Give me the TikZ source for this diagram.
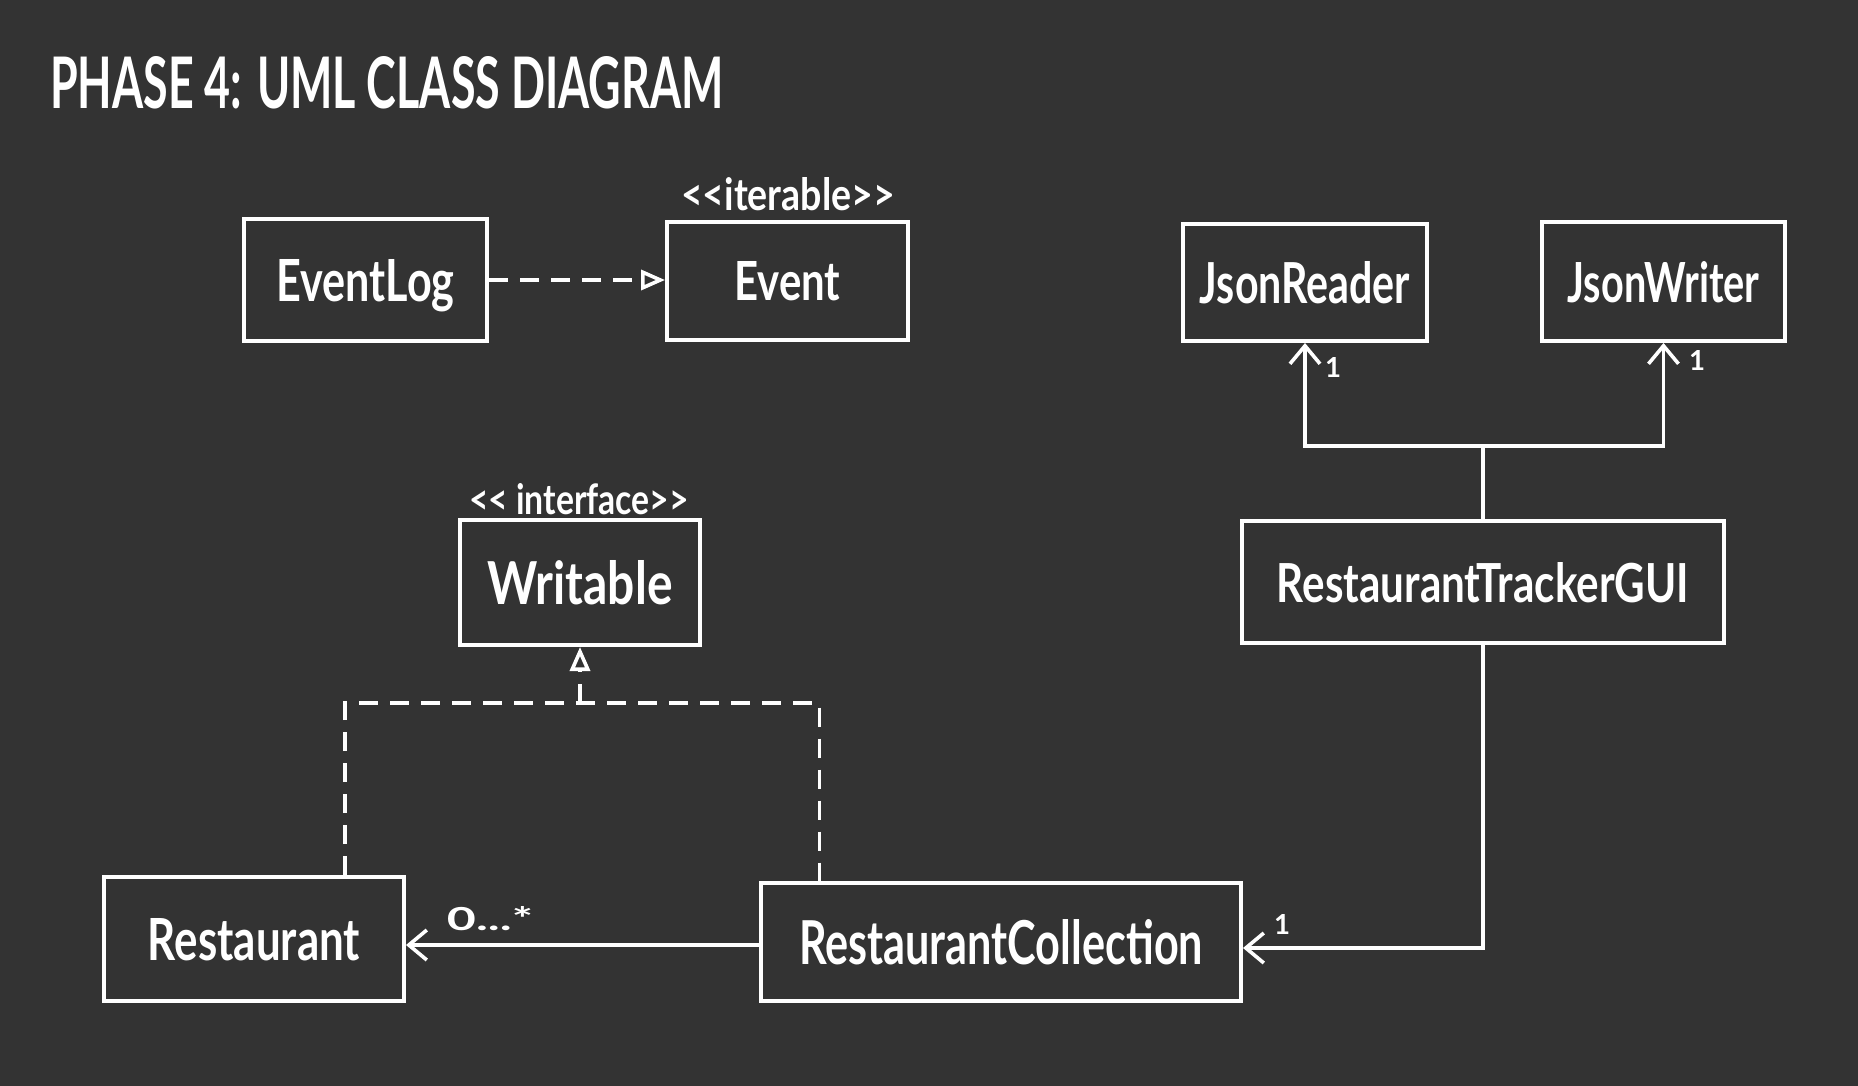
\documentclass[tikz,border=0pt]{standalone}
\usepackage{fontspec}
\setmainfont{Lato}
\usetikzlibrary{arrows.meta,calc}
\definecolor{bg}{HTML}{333333}
\newcommand{\hw}[3]{\resizebox{#1}{#2}{#3}}
\begin{document}
\begin{tikzpicture}[x=1pt,y=-1pt,
  cls/.style={draw=white,line width=4pt,inner sep=0pt,text=white,text depth=0pt,font=\bfseries},
  lbl/.style={text=white,inner sep=0pt,font=\bfseries},
  conn/.style={draw=white,line width=3.6pt},
  dashline/.style={conn,dash pattern=on 19pt off 12pt},
  barb/.style={-{Straight Barb[length=18pt,width=30pt]}},
  tri/.style={-{Triangle[open,length=24pt,width=20pt]}}
]
\fill[bg] (0,0) rectangle (1858,1086);
\useasboundingbox (0,0) rectangle (1858,1086);

% title
\node[lbl, anchor=base west] (title) at (50,109) {\hw{673pt}{52pt}{PHASE 4: UML CLASS DIAGRAM}};

% classes
\node[cls, minimum width=243pt, minimum height=122pt] (el) at (365.5,280) {\hw{178pt}{42pt}{EventLog}};
\node[cls, minimum width=241pt, minimum height=118pt] (ev) at (787.5,281) {\hw{106pt}{39pt}{Event}};
\node[cls, minimum width=244pt, minimum height=117pt] (jr) at (1305,282.5) {\hw{210pt}{42pt}{JsonReader}};
\node[cls, minimum width=243pt, minimum height=119pt] (jw) at (1663.5,281.5) {\hw{192pt}{41pt}{JsonWriter}};
\node[cls, minimum width=482pt, minimum height=122pt] (gui) at (1483,582) {\hw{412pt}{40pt}{RestaurantTrackerGUI}};
\node[cls, minimum width=240pt, minimum height=125pt] (wr) at (580,582.5) {\hw{185pt}{44pt}{Writable}};
\node[cls, minimum width=300pt, minimum height=124pt] (rest) at (254,939) {\hw{212pt}{42pt}{Restaurant}};
\node[cls, minimum width=480pt, minimum height=118pt] (rc) at (1001,942) {\hw{404pt}{45pt}{RestaurantCollection}};

% stereotypes
\node[lbl, anchor=base] (evst) at (788,211) {\hw{214pt}{33pt}{<{}<iterable>{}>}};
\node[lbl, anchor=base] (wrst) at (579,514) {\hw{220pt}{31pt}{<{}< interface>{}>}};

% EventLog -> Event
\draw[dashline, tri] (el.east) -- (el.east -| ev.west);

% GUI -> JsonReader / JsonWriter
\coordinate (jn) at (1483,446);
\draw[conn] (gui.north) -- (jn);
\draw[conn, barb] (jn) -| (jr.south);
\draw[conn, barb] (jn) -| (jw.south);
\node[lbl, anchor=base] (m1) at (1333,377) {\hw{!}{20pt}{1}};
\node[lbl, anchor=base] (m2) at (1697,370) {\hw{!}{20pt}{1}};

% GUI -> RestaurantCollection
\coordinate (rcin) at ($(rc.east)+(0,6)$);
\draw[conn, barb] (gui.south) |- (rcin);
\node[lbl, anchor=base] (m3) at (1282,934) {\hw{!}{20pt}{1}};

% RestaurantCollection -> Restaurant
\draw[conn, barb] ($(rc.west)+(0,3)$) -- ($(rc.west -| rest.east)+(0,3)$);
\node[lbl, anchor=base] (m4) at (490,930) {\hw{86pt}{24pt}{0...*}};

% realization to Writable
\coordinate (rtop) at ($(rest.north west)!0.8!(rest.north east)$);
\coordinate (rctop) at ($(rc.north west)!0.125!(rc.north east)$);
\coordinate (wj) at (580,703);
\draw[dashline] (rtop) |- (wj) -| (rctop);
\draw[dashline, tri] (wj) -- (wr.south);
\end{tikzpicture}
\end{document}
